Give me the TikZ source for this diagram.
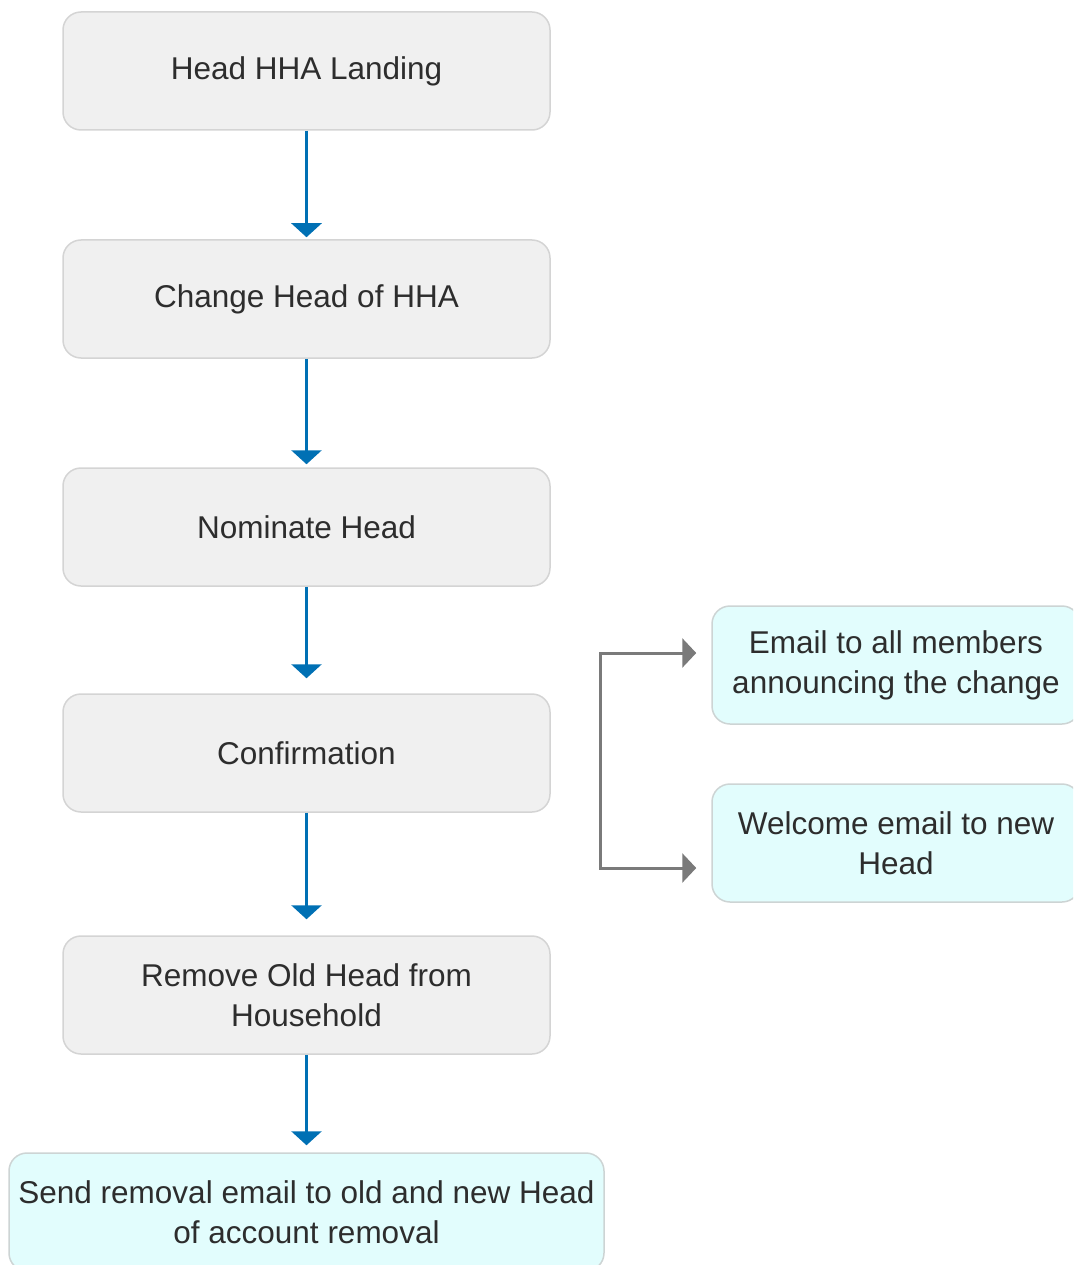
\documentclass[tikz,border=0pt]{standalone}
\usepackage{fontspec}
\setmainfont{Liberation Sans}
\usetikzlibrary{arrows.meta}
\definecolor{stepfill}{RGB}{240,240,240}
\definecolor{stepline}{RGB}{212,212,212}
\definecolor{mailfill}{RGB}{226,253,253}
\definecolor{mailline}{RGB}{205,212,212}
\definecolor{flowblue}{RGB}{0,112,180}
\definecolor{branchgrey}{RGB}{122,122,122}
\definecolor{labeltext}{RGB}{45,45,45}
\begin{document}
\begin{tikzpicture}[x=1pt,y=-1pt,
  every node/.style={font=\fontsize{31.5}{40}\selectfont, text=labeltext, align=center, inner sep=0pt},
  stepbox/.style={draw=stepline, line width=1.5pt, fill=stepfill, rounded corners=18pt,
    minimum width=487pt, minimum height=118pt},
  mailbox/.style={draw=mailline, line width=1.5pt, fill=mailfill, rounded corners=18pt,
    minimum height=118pt},
  flow/.style={draw=flowblue, line width=3pt, -{Triangle[width=30pt,length=14pt]}},
  branch/.style={draw=branchgrey, line width=3pt, -{Triangle[width=29pt,length=14pt]}}
]
\useasboundingbox (0,0) rectangle (1073,1265);
\clip (0,0) rectangle (1073,1265);

% main sequence
\node[stepbox] (landing)  at (306.5,71)  {Head HHA Landing};
\node[stepbox] (change)   at (306.5,299) {Change Head of HHA};
\node[stepbox] (nominate) at (306.5,527) {Nominate Head};
\node[stepbox] (confirm)  at (306.5,753) {Confirmation};
\node[stepbox] (remove)   at (306.5,995) {Remove Old Head from\\Household};
\node[mailbox, minimum width=595pt] (removal) at (306.5,1212)
  {Send removal email to old and new Head\\of account removal};

% notification emails
\node[mailbox, minimum width=368pt] (announce) at (896,665) {Email to all members\\announcing the change};
\node[mailbox, minimum width=368pt] (welcome)  at (896,843) {Welcome email to new\\Head};

% connectors
\draw[flow, shorten >=2pt]  (landing.south)  -- (change.north);
\draw[flow, shorten >=3pt]  (change.south)   -- (nominate.north);
\draw[flow, shorten >=15pt] (nominate.south) -- (confirm.north);
\draw[flow, shorten >=16pt] (confirm.south)  -- (remove.north);
\draw[flow, shorten >=7pt]  (remove.south)   -- (removal.north);

\coordinate (fork) at (600,760);
\draw[branch] (fork) |- ([xshift=-15pt,yshift=12pt]announce.west);
\draw[branch] (fork) |- ([xshift=-15pt,yshift=-25pt]welcome.west);
\end{tikzpicture}
\end{document}
